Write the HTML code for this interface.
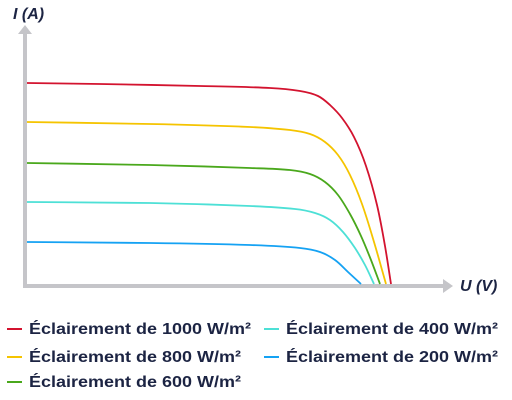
<!DOCTYPE html>
<html><head><meta charset="utf-8"><style>
body{margin:0;background:#fff;}
svg{display:block;font-family:"Liberation Sans",sans-serif;}
</style></head><body>
<svg width="512" height="400" viewBox="0 0 512 400">
<g id="axes">
<line x1="25" y1="286" x2="25" y2="34" stroke="#c5c5c9" stroke-width="4"/>
<polygon points="18,34 32,34 25,25" fill="#c5c5c9"/>
<line x1="23" y1="286" x2="443" y2="286" stroke="#c5c5c9" stroke-width="4"/>
<polygon points="443,279 443,293 453,286" fill="#c5c5c9"/>
<text x="13" y="19" font-size="16" font-weight="bold" font-style="italic" fill="#1c2443">I (A)</text>
<text x="460" y="291" font-size="16" font-weight="bold" font-style="italic" fill="#1c2443">U (V)</text>
</g>
<g id="series"></g>
<g id="legend"></g>
</svg>
<script>
const labels=["Éclairement de 1000 W/m²","Éclairement de 800 W/m²","Éclairement de 600 W/m²","Éclairement de 400 W/m²","Éclairement de 200 W/m²"];
const colors=["#d3132f","#f5c400","#4aa81c","#4de0d6","#15a2f3"];
const uRed=[0,7.3,17.3,24.3,27.3,29.1,30.3,31.5,32.7,33.9,35,35.8,36.4];
const iRed=[10.05,10,9.9,9.8,9.65,9.4,8.95,8.3,7.35,5.9,3.95,1.9,0];
const uYellow=[0,12.3,22.3,26.3,28.3,29.8,31.1,32.3,33.5,34.7,35.9];
const iYellow=[8.1,8,7.85,7.7,7.5,7.1,6.45,5.45,4,2.1,0];
const uGreen=[0,12.3,22.3,26.3,28.3,29.8,31.1,32.3,33.4,34.4,35.3];
const iGreen=[6.05,5.95,5.8,5.7,5.5,5.1,4.45,3.5,2.4,1.2,0];
const uCyan=[0,12.3,22.3,26.8,28.8,30.3,31.6,32.8,33.8,34.7];
const iCyan=[4.1,4.05,3.9,3.75,3.55,3.2,2.6,1.8,0.95,0];
const uBlue=[0,12.3,22.3,27.3,29.3,30.8,32.1,33.4];
const iBlue=[2.1,2.05,1.95,1.8,1.6,1.2,0.6,0];
const seriesU=[uRed,uYellow,uGreen,uCyan,uBlue];
const seriesI=[iRed,iYellow,iGreen,iCyan,iBlue];
function xs(u){return 27+u*10;}
function ys(i){return 284-i*20;}
const NS="http://www.w3.org/2000/svg";
const sg=document.getElementById('series');
function dist(a,b){return Math.hypot(a[0]-b[0],a[1]-b[1]);}
function tan(p,k){
  const a=p[k-1]||p[k],b=p[k+1]||p[k];
  const d=dist(a,p[k])+dist(p[k],b)||1;
  return [(b[0]-a[0])/d,(b[1]-a[1])/d];
}
function pathFor(U,I){
  const p=U.map((u,k)=>[xs(u),ys(I[k])]);
  let d="M"+p[0][0]+","+p[0][1];
  for(let k=0;k<p.length-1;k++){
    const L=dist(p[k],p[k+1])/3;
    const t1=tan(p,k),t2=tan(p,k+1);
    const c1=[p[k][0]+t1[0]*L,p[k][1]+t1[1]*L];
    const c2=[p[k+1][0]-t2[0]*L,p[k+1][1]-t2[1]*L];
    d+=" C"+c1[0].toFixed(1)+","+c1[1].toFixed(1)+" "+c2[0].toFixed(1)+","+c2[1].toFixed(1)+" "+p[k+1][0].toFixed(1)+","+p[k+1][1].toFixed(1);
  }
  return d;
}
const names=["curve-1000","curve-800","curve-600","curve-400","curve-200"];
for(let s=0;s<5;s++){
  const path=document.createElementNS(NS,'path');
  path.setAttribute('d',pathFor(seriesU[s],seriesI[s]));
  path.setAttribute('fill','none');
  path.setAttribute('stroke',colors[s]);
  path.setAttribute('stroke-width','1.8');
  
  
  sg.appendChild(path);
}
const lg=document.getElementById('legend');
const pos=[[7,334],[7,362],[7,387],[264,334],[264,362]];
for(let s=0;s<5;s++){
  const g=document.createElementNS(NS,'g');
  
  
  const l=document.createElementNS(NS,'line');
  l.setAttribute('x1',pos[s][0]);l.setAttribute('x2',pos[s][0]+15);
  l.setAttribute('y1',pos[s][1]-5);l.setAttribute('y2',pos[s][1]-5);
  l.setAttribute('stroke',colors[s]);l.setAttribute('stroke-width','2');
  
  
  const t=document.createElementNS(NS,'text');
  t.setAttribute('x',pos[s][0]+22);t.setAttribute('y',pos[s][1]);
  t.setAttribute('font-size','16');t.setAttribute('font-weight','bold');
  t.setAttribute('fill','#1c2443');
  const w=labels[s].indexOf('1000')>=0?222:212;
  t.setAttribute('textLength',w);t.setAttribute('lengthAdjust','spacingAndGlyphs');
  
  
  t.textContent=labels[s];
  g.appendChild(l);g.appendChild(t);lg.appendChild(g);
}
</script>
</body></html>
